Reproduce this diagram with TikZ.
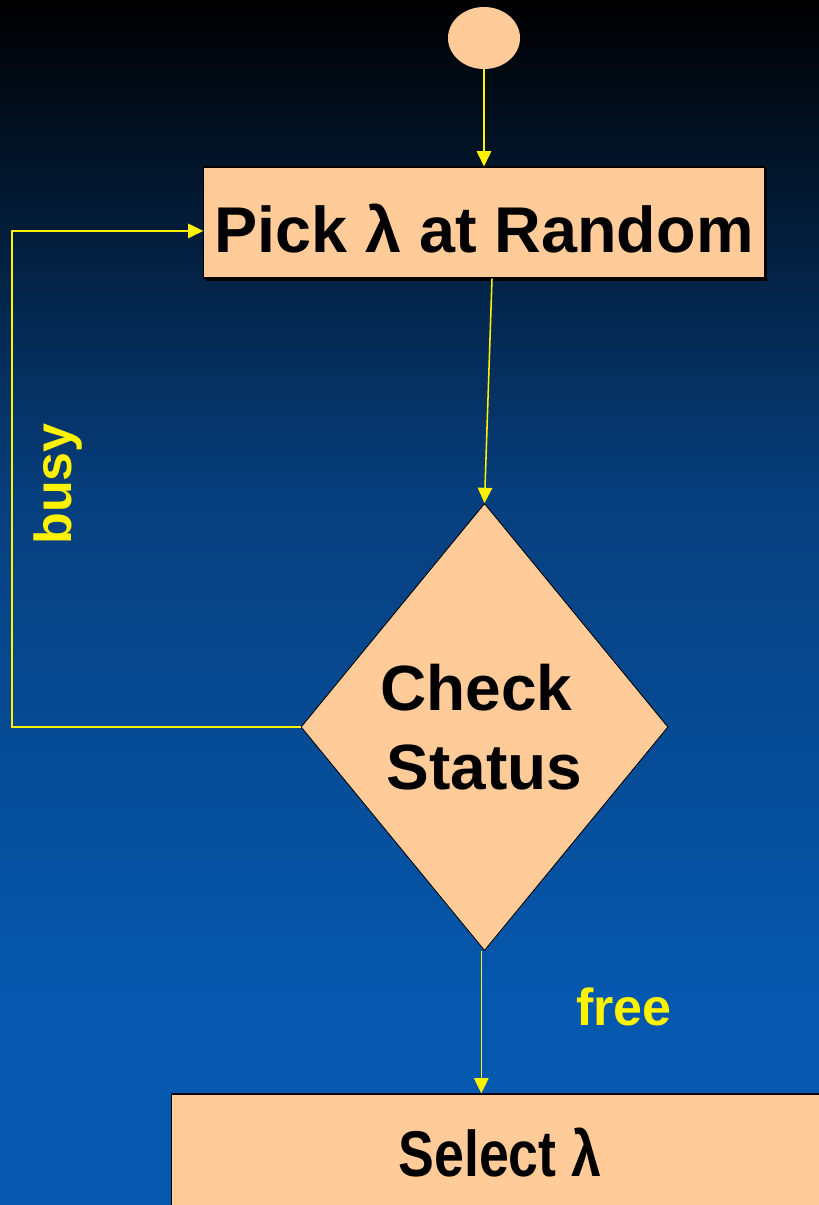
\documentclass[tikz,border=0pt]{standalone}
\usepackage{fontspec}
\setmainfont{Liberation Sans}
\usepackage{tikz}
\usetikzlibrary{shapes.geometric,arrows.meta}
\definecolor{peach}{HTML}{FFCC99}
\definecolor{bgblue}{HTML}{0558AE}
\definecolor{bgmid}{HTML}{073F7E}

\begin{document}
\begin{tikzpicture}[x = 0.025cm, y = -0.025cm]
				\tikzset{block/.style = {shape=rectangle, fill = peach, draw = black, line width = 0.8pt, inner sep = 0pt, font = \fontsize{46}{50}\selectfont\bfseries},
					decision/.style = {shape=diamond, fill = peach, draw = black, line width = 0.6pt, inner sep = 0pt, align = center, font = \fontsize{45.5}{56}\selectfont\bfseries},
					flow/.style = {draw = yellow, line width = 1.1pt, -{Triangle[length=0.38cm, width=0.36cm]}},
					answer/.style = {text = yellow, font = \fontsize{37}{40}\selectfont\bfseries}}
				\useasboundingbox (0,0) rectangle (819,1205);
				\clip (0,0) rectangle (819,1205);
				% background
				\shade[top color = black, bottom color = bgmid] (0,0) rectangle (819,500);
				\shade[top color = bgmid, bottom color = bgblue] (0,500) rectangle (819,1000);
				\fill[bgblue] (0,999) rectangle (819,1205);
				% nodes
				\node[ellipse, fill = peach, minimum width = 1.8cm, minimum height = 1.55cm] (start) at (484,38) {};
				\fill[black] (206,169) rectangle (767,281);
				\node[block, minimum width = 14cm, minimum height = 2.775cm, text height = 1.475cm, text depth = 0pt] (pick) at (484,222.5) {Pick λ at Random};
				\node[decision, minimum width = 9.175cm, minimum height = 11.175cm] (check) at (484.5,727) {\hspace*{-0.4cm}Check\\Status};
				\node[block, minimum width = 16.4cm, minimum height = 2.95cm] (select) at (500,1153) {\scalebox{0.83}[1]{Select λ}};
				\coordinate (corner) at (12,729);
				% connectors
				\draw[flow] (start.south) to (pick.north);
				\draw[flow] ([xshift=0.2cm]pick.south) to (check.north);
				\draw[flow] (check.west) -- (check.west -| corner) |- ([yshift=-0.21cm]pick.west);
				\draw[flow] ([xshift=-0.08cm]check.south) -- ([xshift=-0.08cm]check.south |- select.north);
				% labels
				\node[answer, rotate = 90] (busy) at (58,484) {busy};
				\node[answer] (free) at (624,1007) {free};
			\end{tikzpicture}
\end{document}
